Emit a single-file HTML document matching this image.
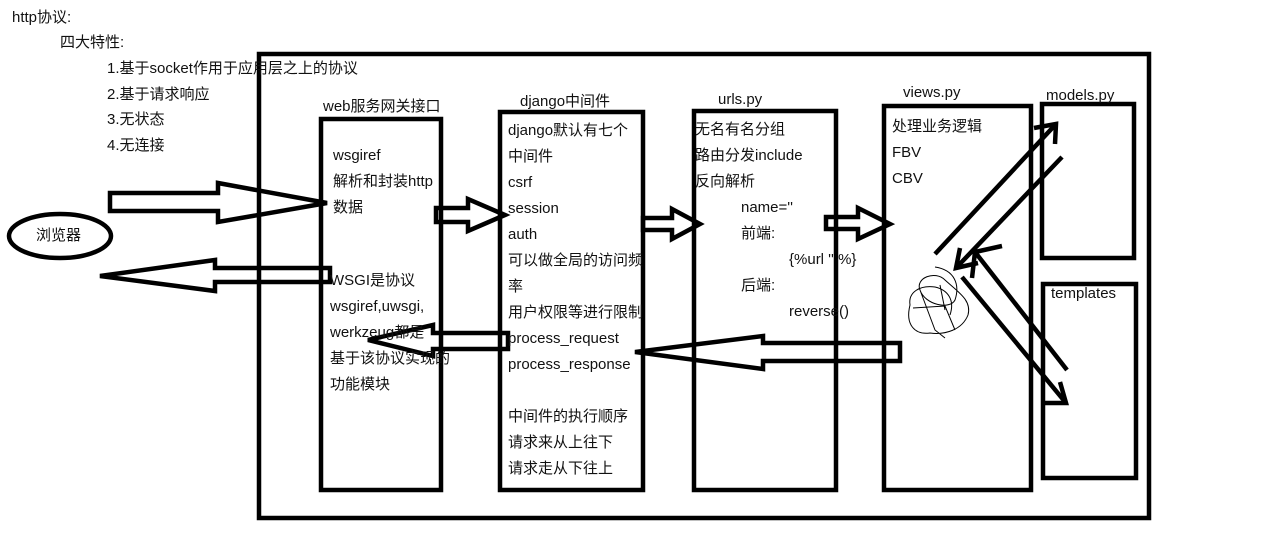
<!DOCTYPE html>
<html><head><meta charset="utf-8"><style>
html,body{margin:0;padding:0;background:#fff;width:1274px;height:556px;overflow:hidden}
svg{display:block}
text{font-family:"Liberation Sans","Noto Sans CJK SC",sans-serif;font-size:15px;fill:#111}
</style></head><body>
<svg width="1274" height="556" viewBox="0 0 1274 556">
<g fill="none" stroke="#000" stroke-width="4.5">
<rect x="259" y="54" width="890" height="464"/>
<rect x="321" y="119" width="120" height="371"/>
<rect x="500" y="112" width="143" height="378"/>
<rect x="694" y="111" width="142" height="379"/>
<rect x="884" y="106" width="147" height="384"/>
<rect x="1042" y="104" width="92" height="154"/>
<rect x="1043" y="284" width="93" height="194"/>
<ellipse cx="60" cy="236" rx="51" ry="22"/>
<polygon points="110,193 218,193 218,183 327,203 218,222 218,211 110,211"/>
<polygon points="330,268 215,268 215,260 100,276 215,291 215,282 330,282"/>
<polygon points="436,208 468,208 468,199 505,215 468,231 468,222 436,222"/>
<polygon points="643,218 672,218 672,209 700,224 672,239 672,230 643,230"/>
<polygon points="826,217 858,217 858,208 890,224 858,239 858,229 826,229"/>
<polygon points="900,343 763,343 763,336 635,352 763,369 763,361 900,361"/>
<polygon points="508,333 433,333 433,325 368,340 433,356 433,349 508,349"/>
<line x1="935" y1="254" x2="1056" y2="124"/>
<polyline points="1034,128 1056,124 1055,144"/>
<line x1="1062" y1="157" x2="956" y2="268"/>
<polyline points="960,248 956,268 978,263"/>
<line x1="962" y1="277" x2="1066" y2="403"/>
<polyline points="1060,382 1066,403 1045,403"/>
<line x1="1067" y1="370" x2="975" y2="252"/>
<polyline points="972,278 975,252 1002,246"/>
</g>
<g fill="none" stroke="#000" stroke-width="1">
<path d="M935,267 C955,270 960,285 955,300 C950,310 925,305 920,290 C915,278 935,270 945,280 C958,292 972,300 968,315 C962,330 945,335 930,333 C915,335 905,325 910,305 C908,292 920,285 935,287 C948,290 955,300 950,315 M913,308 L945,306 L955,330 M920,290 L935,330 L945,338 M940,285 L945,310"/>
</g>
<text x="12" y="22">http协议:</text>
<text x="60" y="47">四大特性:</text>
<text x="107" y="73">1.基于socket作用于应用层之上的协议</text>
<text x="107" y="99">2.基于请求响应</text>
<text x="107" y="124">3.无状态</text>
<text x="107" y="150">4.无连接</text>
<text x="36" y="240">浏览器</text>
<text x="323" y="111">web服务网关接口</text>
<text x="333" y="160">wsgiref</text>
<text x="333" y="186">解析和封装http</text>
<text x="333" y="212">数据</text>
<text x="330" y="285">WSGI是协议</text>
<text x="330" y="311">wsgiref,uwsgi,</text>
<text x="330" y="337">werkzeug都是</text>
<text x="330" y="363">基于该协议实现的</text>
<text x="330" y="389">功能模块</text>
<text x="520" y="106">django中间件</text>
<text x="508" y="135">django默认有七个</text>
<text x="508" y="161">中间件</text>
<text x="508" y="187">csrf</text>
<text x="508" y="213">session</text>
<text x="508" y="239">auth</text>
<text x="508" y="265">可以做全局的访问频</text>
<text x="508" y="291">率</text>
<text x="508" y="317">用户权限等进行限制</text>
<text x="508" y="343">process_request</text>
<text x="508" y="369">process_response</text>
<text x="508" y="421">中间件的执行顺序</text>
<text x="508" y="447">请求来从上往下</text>
<text x="508" y="473">请求走从下往上</text>
<text x="718" y="104">urls.py</text>
<text x="695" y="134">无名有名分组</text>
<text x="695" y="160">路由分发include</text>
<text x="695" y="186">反向解析</text>
<text x="741" y="212">name=''</text>
<text x="741" y="238">前端:</text>
<text x="789" y="264">{%url '' %}</text>
<text x="741" y="290">后端:</text>
<text x="789" y="316">reverse()</text>
<text x="903" y="97">views.py</text>
<text x="892" y="131">处理业务逻辑</text>
<text x="892" y="157">FBV</text>
<text x="892" y="183">CBV</text>
<text x="1046" y="100">models.py</text>
<text x="1051" y="298">templates</text>
</svg>
</body></html>
